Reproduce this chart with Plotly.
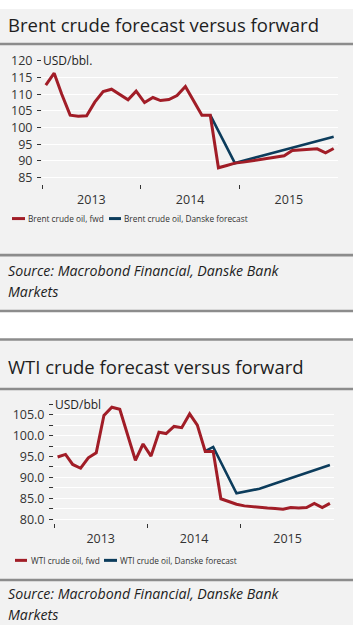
import plotly.graph_objects as go

W, H = 356, 629

# ---------------- data ----------------
months = [f"{y}-{m:02d}-15" for y in (2013, 2014, 2015) for m in range(1, 13)]

brent_fwd = [112.7, 116.3, 110.0, 103.7, 103.4, 103.5, 107.6, 110.8, 111.5, 109.9, 108.3, 110.9,
             107.5, 109.0, 108.1, 108.4, 109.6, 112.3, 108.1, 103.7, 103.7, 87.9, 88.6, 89.3,
             89.6, 90.0, 90.3, 90.7, 91.1, 91.5, 93.1, 93.3, 93.4, 93.6, 92.4, 93.7]
brent_fc_dates = ["2014-09-15", "2014-12-15", "2015-03-15", "2015-06-15", "2015-09-15", "2015-12-15"]
brent_fc = [103.7, 89.3, 91.3, 93.3, 95.2, 97.2]

wti_fwd = [94.9, 95.5, 93.1, 92.2, 94.7, 95.9, 104.8, 106.8, 106.3, 100.5, 94.1, 98.0,
           95.1, 100.8, 100.5, 102.2, 101.9, 105.2, 102.5, 96.2, 96.2, 84.9, 84.2, 83.6,
           83.2, 83.0, 82.8, 82.7, 82.6, 82.4, 82.8, 82.7, 82.8, 83.8, 82.8, 83.8]
wti_fc_dates = ["2014-08-15", "2014-09-15", "2014-12-15", "2015-03-15", "2015-06-15", "2015-09-15", "2015-12-15"]
wti_fc = [96.3, 97.3, 86.2, 87.3, 89.2, 91.1, 93.0]

brent_yticks = [85, 90, 95, 100, 105, 110, 115, 120]
wti_yticks = [80, 82.5, 85, 87.5, 90, 92.5, 95, 97.5, 100, 102.5, 105, 107.5]
wti_ylabels = ["80.0", "", "85.0", "", "90.0", "", "95.0", "", "100.0", "", "105.0", ""]

# ---------------- style ----------------
RED = "#a11d27"
BLUE = "#0c3c5c"
PANEL = "#f2f2f2"
SEP = "#8c8c8c"
TXT = "#1e1e1e"
TICK = "#333333"
FONT = "Open Sans"


def px(x):
    return x / W


def py(y):
    return 1 - y / H


fig = go.Figure()
fig.add_trace(go.Scatter(x=brent_fc_dates, y=brent_fc, mode="lines", line=dict(color=BLUE, width=2.6),
                         xaxis="x", yaxis="y", showlegend=False))
fig.add_trace(go.Scatter(x=months, y=brent_fwd, mode="lines", line=dict(color=RED, width=3),
                         xaxis="x", yaxis="y", showlegend=False))
fig.add_trace(go.Scatter(x=wti_fc_dates, y=wti_fc, mode="lines", line=dict(color=BLUE, width=2.6),
                         xaxis="x2", yaxis="y2", showlegend=False))
fig.add_trace(go.Scatter(x=months, y=wti_fwd, mode="lines", line=dict(color=RED, width=3),
                         xaxis="x2", yaxis="y2", showlegend=False))

xcommon = dict(type="date", ticklabelmode="period", dtick="M12", tick0="2013-01-01",
               tickformat="%Y", ticks="outside", ticklen=4, tickwidth=1, tickcolor=TICK,
               showgrid=False, zeroline=False, showline=False,
               tickfont=dict(family=FONT, size=12.5, color=TICK))
ycommon = dict(ticks="outside", ticklen=4, tickwidth=1, tickcolor=TICK, showgrid=True,
               gridcolor="white", gridwidth=1, zeroline=False, showline=False,
               tickfont=dict(family=FONT, size=12.5, color=TICK), ticklabelstandoff=2)

fig.update_layout(
    width=W, height=H, margin=dict(l=0, r=0, t=0, b=0),
    paper_bgcolor="white", plot_bgcolor="rgba(0,0,0,0)",
    xaxis=dict(domain=[px(42), px(338)], range=["2013-01-01", "2015-12-31"], anchor="y", **xcommon),
    yaxis=dict(domain=[py(178.8), py(53)], range=[83, 120], tickvals=brent_yticks, anchor="x", **ycommon),
    xaxis2=dict(domain=[px(54), px(334)], range=["2013-01-01", "2015-12-31"], anchor="y2", **xcommon),
    yaxis2=dict(domain=[py(525.3), py(403.6)], range=[79, 107.5], tickvals=wti_yticks,
                ticktext=wti_ylabels, anchor="x2", **ycommon),
)

shapes = [
    dict(type="rect", xref="paper", yref="paper", x0=0, x1=px(353), y0=py(309), y1=py(0),
         fillcolor=PANEL, line=dict(width=0), layer="below"),
    dict(type="rect", xref="paper", yref="paper", x0=0, x1=px(353), y0=py(629), y1=py(337.5),
         fillcolor=PANEL, line=dict(width=0), layer="below"),
]
for yy in (35.8, 251.3, 308.3, 337.5, 388, 583):
    shapes.append(dict(type="line", xref="paper", yref="paper", x0=0, x1=px(353), y0=py(yy), y1=py(yy),
                       line=dict(color=SEP, width=2.6)))
# legend swatches
for (x0, x1, yy, c) in [(12, 25, 214, RED), (109, 121, 214, BLUE), (15, 27, 563, RED), (104, 117, 563, BLUE)]:
    shapes.append(dict(type="line", xref="paper", yref="paper", x0=px(x0), x1=px(x1), y0=py(yy), y1=py(yy),
                       line=dict(color=c, width=3)))
fig.update_layout(shapes=shapes)

ann = []


def text(x, y, s, size, color=TXT, italic=False, bg=None, xref="paper", yref="paper"):
    d = dict(x=x, y=y, xref=xref, yref=yref, text=s, showarrow=False, xanchor="left", yanchor="middle",
             font=dict(family=FONT, size=size, color=color, style="italic" if italic else "normal"))
    if bg:
        d.update(bgcolor=bg, borderpad=0)
    ann.append(d)


text(px(6), py(16), "Brent crude forecast versus forward", 18.5)
text(px(6), py(365), "WTI crude forecast versus forward", 18.5)
text(px(41.5), 120, "USD/bbl.", 12, color=TXT, bg=PANEL, yref="y")
text(px(53.5), 107.5, "USD/bbl", 12, color=TXT, bg=PANEL, yref="y2")
text(px(26), py(214), "Brent crude oil, fwd", 8.3, color=TICK)
text(px(122), py(214), "Brent crude oil, Danske forecast", 8.3, color=TICK)
text(px(28.5), py(563), "WTI crude oil, fwd", 8.3, color=TICK)
text(px(118), py(563), "WTI crude oil, Danske forecast", 8.3, color=TICK)
for y1, y2 in ((267, 288), (597, 618)):
    text(px(6), py(y1), "Source: Macrobond Financial, Danske Bank", 14.2, italic=True)
    text(px(6), py(y2), "Markets", 14.2, italic=True)
fig.update_layout(annotations=ann)

fig.write_html("out.html", config={"displayModeBar": False},
               post_script="document.body.style.margin='0';document.body.style.overflow='hidden';")
